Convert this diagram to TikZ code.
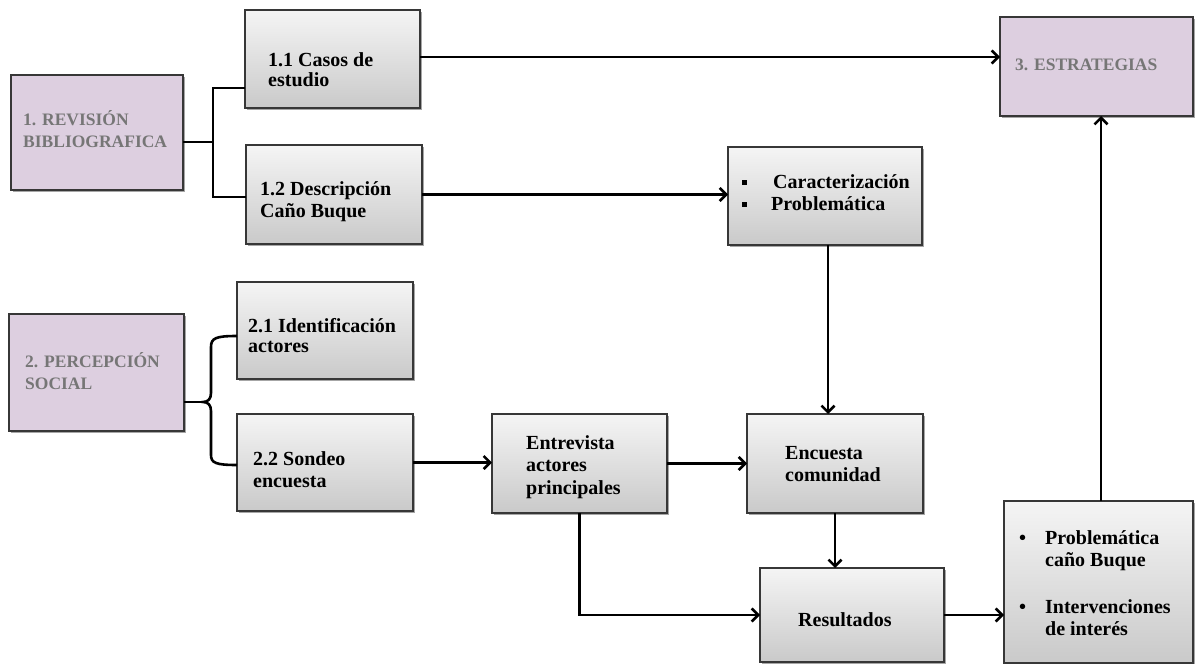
\documentclass[tikz,border=0pt]{standalone}
\usepackage{fontspec}
\setmainfont{Liberation Serif}
\usetikzlibrary{arrows.meta,shadows,calc}
\definecolor{lilac}{RGB}{221,207,224}
\definecolor{lilactext}{RGB}{118,118,118}
\definecolor{edgegray}{RGB}{55,55,55}
\newcommand\rowsat[2]{{\fontsize{20}{#1}\selectfont\begin{tabular}[t]{@{}l@{}}#2\end{tabular}}}
\newcommand\sqb{\rule[3.5pt]{5pt}{5pt}}
\tikzset{
  shd/.style={drop shadow={shadow xshift=1.5pt,shadow yshift=-1.5pt,fill=black,opacity=.35}},
  gbox/.style={draw=edgegray, line width=1.7pt, top color=gray!8, bottom color=gray!42, shd,
    anchor=north west, inner sep=0pt, outer sep=0pt},
  pbox/.style={draw=edgegray, line width=1.7pt, fill=lilac, shd,
    anchor=north west, inner sep=0pt, outer sep=0pt},
  btxt/.style={anchor=base west, inner sep=0pt, font=\bfseries},
  ptxt/.style={anchor=base west, inner sep=0pt, text=lilactext, font=\bfseries\fontsize{17.5}{22}\selectfont},
  conn/.style={line width=2.6pt, draw=black},
  arr/.style={conn, -{Straight Barb[length=6.5pt,width=13pt,line width=2.6pt]}},
}
\begin{document}
\begin{tikzpicture}[x=1pt,y=-1pt]
\useasboundingbox (0,0) rectangle (1195,664);
% boxes
\node[pbox, minimum width=172pt, minimum height=115pt] (rev) at (11,75) {};
\node[gbox, minimum width=175pt, minimum height=98pt] (c11) at (245,10) {};
\node[gbox, minimum width=176pt, minimum height=99pt] (c12) at (246,145) {};
\node[pbox, minimum width=193pt, minimum height=99pt] (str) at (1000,17) {};
\node[gbox, minimum width=194pt, minimum height=98pt] (char) at (728,147) {};
\node[pbox, minimum width=175pt, minimum height=117pt] (per) at (9,314) {};
\node[gbox, minimum width=176pt, minimum height=97pt] (c21) at (237,282) {};
\node[gbox, minimum width=176pt, minimum height=97pt] (c22) at (237,414) {};
\node[gbox, minimum width=175pt, minimum height=99pt] (ent) at (492,414) {};
\node[gbox, minimum width=176pt, minimum height=99pt] (enc) at (747,414) {};
\node[gbox, minimum width=184pt, minimum height=94pt] (res) at (760,568) {};
\node[gbox, minimum width=189pt, minimum height=162pt] (fin) at (1004,501) {};
% texts
\node[ptxt] (trev) at (23,125) {\begin{tabular}[t]{@{}l@{}}1. REVISIÓN\\BIBLIOGRAFICA\end{tabular}};
\node[ptxt] (tstr) at (1015,70) {3. ESTRATEGIAS};
\node[ptxt] (tper) at (25,367) {\begin{tabular}[t]{@{}l@{}}2. PERCEPCIÓN\\SOCIAL\end{tabular}};
\node[btxt] (tc11) at (268,66) {\rowsat{20}{1.1 Casos de\\estudio}};
\node[btxt] (tc12) at (260,195) {\rowsat{22}{1.2 Descripción\\Caño Buque}};
\node[btxt] (tchar) at (742,188) {\rowsat{22}{\makebox[31pt][l]{\sqb}Caracterización\\\makebox[29pt][l]{\sqb}Problemática}};
\node[btxt] (tc21) at (248,332) {\rowsat{20.5}{2.1 Identificación\\actores}};
\node[btxt] (tc22) at (253,465) {\rowsat{22}{2.2 Sondeo\\encuesta}};
\node[btxt] (tent) at (526,449) {\rowsat{22.5}{Entrevista\\actores\\principales}};
\node[btxt] (tenc) at (785,459) {\rowsat{22}{Encuesta\\comunidad}};
\node[btxt] (tres) at (798,626) {\rowsat{22}{Resultados}};
\node[btxt] (tfin) at (1019,544) {\rowsat{22}{\makebox[26pt][l]{•}Problemática\\\makebox[26pt][l]{}caño Buque\\[25pt]\makebox[26pt][l]{•}Intervenciones\\\makebox[26pt][l]{}de interés}};
% brace 1
\coordinate (b1) at (213,142);
\draw[conn] (b1 -| rev.east) -- (b1);
\draw[conn] (c11.west |- 0,88) -| (b1) |- (c12.west |- 0,197);
% brace 2
\coordinate (b2) at (203,402);
\draw[conn] (b2 -| per.east) -- (b2);
\draw[conn] (c21.west |- 0,336) .. controls (216,336) and (211,338) .. (211,347) -- (211,393)
  .. controls (211,399) and (208,402) .. (b2)
  .. controls (208,402) and (211,405) .. (211,411) -- (211,455)
  .. controls (211,463) and (216,465) .. (c22.west |- 0,465);
% arrows
\draw[arr] (c11.east |- 0,57) -- (str.west |- 0,57);
\draw[arr] (c12.east) -- (c12.east -| char.west);
\draw[arr] (char.south -| 828,0) -- (enc.north -| 828,0);
\draw[arr] (c22.east) -- (c22.east -| ent.west);
\draw[arr] (ent.east) -- (ent.east -| enc.west);
\draw[arr] (ent.south) |- (res.west);
\draw[arr] (enc.south) -- (enc.south |- res.north);
\draw[arr] (res.east) -- (res.east -| fin.west);
\draw[arr] (fin.north -| 1101,0) -- (str.south -| 1101,0);
\end{tikzpicture}
\end{document}
